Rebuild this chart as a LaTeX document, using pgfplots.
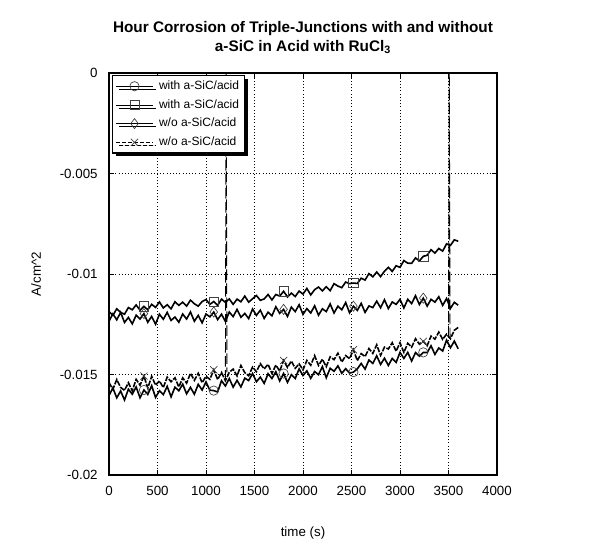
\documentclass[border=0pt]{standalone}
\usepackage{fontspec}
\setmainfont{Liberation Sans}
\usepackage{pgfplots}
\pgfplotsset{compat=1.18}
\usepackage{pgfplotstable}
\usetikzlibrary{shadows}

% current density (A/cm^2) read every 40 s
\pgfplotstableread{
t s1 s2 s3 s4
0 -0.01605 -0.01187 -0.01235 -0.01540
40 -0.01567 -0.01206 -0.01198 -0.01574
80 -0.01616 -0.01173 -0.01228 -0.01525
120 -0.01582 -0.01191 -0.01191 -0.01564
160 -0.01627 -0.01200 -0.01241 -0.01579
200 -0.01573 -0.01167 -0.01216 -0.01541
240 -0.01598 -0.01178 -0.01248 -0.01581
280 -0.01562 -0.01154 -0.01205 -0.01524
320 -0.01616 -0.01180 -0.01224 -0.01553
360 -0.01577 -0.01161 -0.01197 -0.01508
400 -0.01599 -0.01178 -0.01240 -0.01567
440 -0.01556 -0.01151 -0.01211 -0.01509
480 -0.01614 -0.01166 -0.01250 -0.01553
520 -0.01581 -0.01139 -0.01200 -0.01532
560 -0.01600 -0.01169 -0.01225 -0.01565
600 -0.01559 -0.01153 -0.01191 -0.01513
640 -0.01611 -0.01173 -0.01231 -0.01536
680 -0.01563 -0.01138 -0.01214 -0.01516
720 -0.01581 -0.01156 -0.01240 -0.01562
760 -0.01548 -0.01140 -0.01199 -0.01517
800 -0.01596 -0.01160 -0.01224 -0.01543
840 -0.01564 -0.01130 -0.01189 -0.01494
880 -0.01598 -0.01148 -0.01235 -0.01529
920 -0.01549 -0.01160 -0.01206 -0.01494
960 -0.01577 -0.01137 -0.01243 -0.01541
1000 -0.01537 -0.01127 -0.01199 -0.01509
1040 -0.01578 -0.01151 -0.01213 -0.01524
1080 -0.01580 -0.01137 -0.01189 -0.01477
1120 -0.01587 -0.01156 -0.01227 -0.01525
1160 -0.01531 -0.01125 -0.01200 -0.01490
1200 -0.01557 -0.01141 -0.01236 -0.01531
1240 -0.01520 -0.01124 -0.01189 -0.01489
1280 -0.01563 -0.01151 -0.01212 -0.01473
1320 -0.01529 -0.01125 -0.01176 -0.01507
1360 -0.01562 -0.01138 -0.01215 -0.01455
1400 -0.01518 -0.01110 -0.01196 -0.01491
1440 -0.01530 -0.01140 -0.01222 -0.01506
1480 -0.01495 -0.01123 -0.01174 -0.01463
1520 -0.01536 -0.01107 -0.01206 -0.01486
1560 -0.01513 -0.01131 -0.01180 -0.01446
1600 -0.01544 -0.01124 -0.01221 -0.01472
1640 -0.01496 -0.01102 -0.01190 -0.01449
1680 -0.01520 -0.01129 -0.01208 -0.01495
1720 -0.01486 -0.01102 -0.01163 -0.01453
1760 -0.01532 -0.01110 -0.01196 -0.01483
1800 -0.01495 -0.01086 -0.01176 -0.01430
1840 -0.01539 -0.01114 -0.01211 -0.01465
1880 -0.01501 -0.01095 -0.01165 -0.01433
1920 -0.01520 -0.01112 -0.01187 -0.01469
1960 -0.01472 -0.01085 -0.01153 -0.01447
2000 -0.01505 -0.01100 -0.01201 -0.01477
2040 -0.01482 -0.01072 -0.01172 -0.01430
2080 -0.01519 -0.01104 -0.01194 -0.01454
2120 -0.01485 -0.01078 -0.01158 -0.01406
2160 -0.01501 -0.01065 -0.01205 -0.01455
2200 -0.01461 -0.01084 -0.01173 -0.01424
2240 -0.01516 -0.01063 -0.01187 -0.01461
2280 -0.01469 -0.01083 -0.01149 -0.01412
2320 -0.01484 -0.01048 -0.01194 -0.01426
2360 -0.01457 -0.01060 -0.01160 -0.01394
2400 -0.01494 -0.01068 -0.01178 -0.01438
2440 -0.01471 -0.01040 -0.01142 -0.01406
2480 -0.01493 -0.01048 -0.01193 -0.01421
2520 -0.01488 -0.01045 -0.01160 -0.01377
2560 -0.01472 -0.01047 -0.01181 -0.01431
2600 -0.01445 -0.01021 -0.01146 -0.01396
2640 -0.01473 -0.01030 -0.01191 -0.01411
2680 -0.01428 -0.00998 -0.01159 -0.01371
2720 -0.01445 -0.01014 -0.01167 -0.01395
2760 -0.01407 -0.00990 -0.01135 -0.01352
2800 -0.01450 -0.01013 -0.01168 -0.01405
2840 -0.01419 -0.00986 -0.01128 -0.01364
2880 -0.01455 -0.00967 -0.01172 -0.01373
2920 -0.01420 -0.00987 -0.01139 -0.01342
2960 -0.01440 -0.00959 -0.01151 -0.01384
3000 -0.01390 -0.00967 -0.01126 -0.01342
3040 -0.01420 -0.00933 -0.01169 -0.01390
3080 -0.01390 -0.00946 -0.01126 -0.01345
3120 -0.01433 -0.00947 -0.01147 -0.01364
3160 -0.01391 -0.00920 -0.01108 -0.01322
3200 -0.01409 -0.00935 -0.01152 -0.01349
3240 -0.01390 -0.00912 -0.01120 -0.01335
3280 -0.01391 -0.00907 -0.01160 -0.01357
3320 -0.01357 -0.00879 -0.01126 -0.01309
3360 -0.01400 -0.00896 -0.01140 -0.01324
3400 -0.01368 -0.00873 -0.01113 -0.01289
3440 -0.01383 -0.00886 -0.01156 -0.01325
3480 -0.01329 -0.00850 -0.01122 -0.01299
3520 -0.01367 -0.00858 -0.01171 -0.01322
3560 -0.01334 -0.00830 -0.01141 -0.01280
3600 -0.01372 -0.00837 -0.01155 -0.01266
}\corrdata

\begin{document}
\begin{tikzpicture}
\begin{axis}[
    scale only axis,
    width=291pt,height=301.5pt,
    xmin=0,xmax=4000,ymin=-0.02,ymax=0,
    scaled y ticks=false,
    xtick={0,500,1000,1500,2000,2500,3000,3500,4000},
    xticklabels={0,500,1000,1500,2000,2500,3000,3500,4000},
    ytick={-0.02,-0.015,-0.01,-0.005,0},
    yticklabels={-0.02,-0.015,-0.01,-0.005,0},
    grid=major,
    grid style={black,dotted,line width=0.6pt},
    tick align=inside,
    major tick length=4pt,
    tick style={black,line width=0.6pt},
    axis line style={black,line width=0.9pt},
    ticklabel style={font=\fontsize{10}{12}\selectfont},
    x tick label style={yshift=-5pt},
    y tick label style={xshift=-5pt},
    every axis x label/.style={at={(axis description cs:0.5,-0.1443)},anchor=center},
    every axis y label/.style={at={(axis description cs:-0.1881,0.5)},rotate=90,anchor=center},
    label style={font=\fontsize{10}{12}\selectfont},
    xlabel={time (s)},
    ylabel={A/cm\textasciicircum 2},
    title={Hour Corrosion of Triple-Junctions with and without\\a-SiC in Acid with RuCl\textsubscript{3}},
    every axis title/.style={at={(axis description cs:0.5,1)},anchor=south,yshift=14pt,inner sep=0pt,
        align=center,font=\bfseries\fontsize{11.5}{14.5}\selectfont},
    legend cell align=left,
    legend style={at={(axis description cs:0.008,0.995)},anchor=north west,
        draw=black,line width=0.8pt,fill=white,
        drop shadow={shadow xshift=2.4pt,shadow yshift=-2.4pt,fill=black,opacity=1},
        font=\fontsize{9}{10}\selectfont,inner sep=2.5pt,row sep=3pt,column sep=3pt,
        nodes={inner sep=1.5pt}},
    legend image post style={line width=0.5pt},
    legend image code/.code={
        \draw[mark repeat=2,mark phase=2]
        plot coordinates {(0cm,0cm) (0.48cm,0cm) (0.96cm,0cm)};},
]
\addplot[black,line width=1.2pt,mark=o,mark size=3.5pt,mark phase=10,mark repeat=18,
    mark options={solid,line width=0.5pt,draw=black!75}] table[x=t,y=s1]{\corrdata};
\addplot[black,line width=1.2pt,mark=square,mark size=3.5pt,mark phase=10,mark repeat=18,
    mark options={solid,line width=0.5pt,draw=black!75}] table[x=t,y=s2]{\corrdata};
\addplot[black,line width=1.2pt,mark=diamond,mark size=3.8pt,mark phase=10,mark repeat=18,
    mark options={solid,line width=0.5pt,draw=black!75}] table[x=t,y=s3]{\corrdata};
\addplot[black,line width=1.2pt,dash pattern=on 4pt off 1pt,mark=x,mark size=3.8pt,mark phase=10,mark repeat=18,
    mark options={solid,line width=0.5pt,draw=black!75},
    legend image post style={line width=0.5pt,dash pattern=on 2.5pt off 2pt}] table[x=t,y=s4]{\corrdata};
% start-up transient and the two current spikes of the dashed run
\addplot[black,line width=1.2pt,forget plot] coordinates {(3,0) (3,-0.0162)};
\addplot[black,line width=0.7pt,dash pattern=on 8pt off 2.5pt,forget plot]
    coordinates {(1200,-0.01531) (1208,0) (1216,-0.01489)};
\addplot[black,line width=0.7pt,dash pattern=on 8pt off 2.5pt,forget plot]
    coordinates {(3500,-0.01310) (3508,0) (3516,-0.01322)};
\legend{with a-SiC/acid,with a-SiC/acid,w/o a-SiC/acid,w/o a-SiC/acid}
\coordinate (bbl) at (axis description cs:-0.2809,-0.1766);
\coordinate (btr) at (axis description cs:1.2861,1.1816);
\end{axis}
\pgfresetboundingbox
\path[use as bounding box] (bbl) rectangle (btr);
\end{tikzpicture}
\end{document}
